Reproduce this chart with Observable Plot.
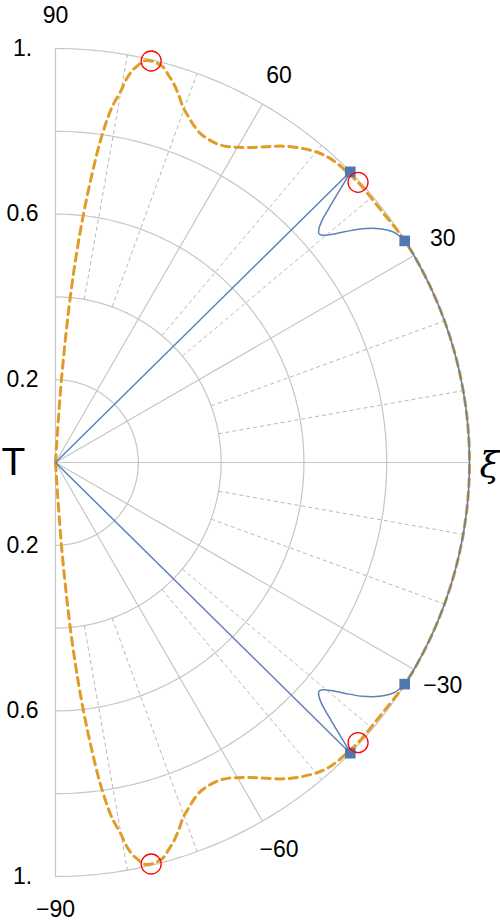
<!DOCTYPE html>
<html><head><meta charset="utf-8">
<script src="https://cdn.jsdelivr.net/npm/d3@7"></script>
<script src="https://cdn.jsdelivr.net/npm/@observablehq/plot@0.6"></script>
<style>html,body{margin:0;padding:0;background:#fff}svg{display:block}</style>
</head><body><div id="chart"></div>
<script>
// ---- grid / ticks ----
const ringRadii = [0.2, 0.4, 0.6, 0.8, 1.0];
const spokeAngles = [-90, -60, -30, 0, 30, 60, 90];
const minorSpokeAngles = [-80, -70, -50, -40, -20, -10, 10, 20, 40, 50, 70, 80];
const angleTickValues = [90, 60, 30, -30, -60, -90];
const angleTickLabels = ["90", "60", "30", "\u221230", "\u221260", "\u221290"];
const radialTickValues = [1, 0.6, 0.2, -0.2, -0.6, -1];
const radialTickLabels = ["1.", "0.6", "0.2", "0.2", "0.6", "1."];

// ---- orange dashed curve (angle in degrees, radius) ----
const orangeAngle = [86.5, 86.2, 85.9, 85.4, 84.9, 84.3, 83.6, 82.8, 82.0, 81.1, 80.6, 80.0, 79.6, 78.9, 78.3, 77.6, 76.6, 75.7, 74.7, 73.7, 72.7, 71.4, 70.2, 68.9, 67.7, 66.2, 64.9, 63.1, 61.4, 59.8, 58.2, 56.2, 54.2, 51.7, 49.4, 47.4, 45.2, 42.8, 40.1, 37.2, 34.2, 32.5, 30, 25, 20, 15, 10, 5, 0,
  -5, -10, -15, -20, -25, -30, -32.5, -34.2, -37.2, -40.1, -42.8, -45.2, -47.4, -49.4, -51.7, -54.2, -56.2, -58.2, -59.8, -61.4, -63.1, -64.9, -66.2, -67.7, -68.9, -70.2, -71.4, -72.7, -73.7, -74.7, -75.7, -76.6, -77.6, -78.3, -78.9, -79.6, -80.0, -80.6, -81.1, -82.0, -82.8, -83.6, -84.3, -84.9, -85.4, -85.9, -86.2, -86.5];
const orangeRadius = [0, 0.1, 0.2, 0.3, 0.4, 0.5, 0.6, 0.7, 0.79, 0.861, 0.886, 0.912, 0.938, 0.965, 0.979, 0.993, 0.997, 0.995, 0.989, 0.974, 0.959, 0.935, 0.911, 0.894, 0.88, 0.868, 0.864, 0.863, 0.869, 0.881, 0.895, 0.918, 0.942, 0.966, 0.983, 0.991, 0.994, 0.996, 0.995, 0.995, 0.998, 0.999, 1, 1, 1, 1, 1, 1, 1,
  1, 1, 1, 1, 1, 1, 0.999, 0.998, 0.995, 0.995, 0.996, 0.994, 0.991, 0.983, 0.966, 0.942, 0.918, 0.895, 0.881, 0.869, 0.863, 0.864, 0.868, 0.88, 0.894, 0.911, 0.935, 0.959, 0.974, 0.989, 0.995, 0.997, 0.993, 0.979, 0.965, 0.938, 0.912, 0.886, 0.861, 0.79, 0.7, 0.6, 0.5, 0.4, 0.3, 0.2, 0.1, 0];

// ---- blue solid curve: loops + outer arc ----
const blueAngle = [44.6, 44.3, 43.6, 42.9, 42.2, 41.6, 41.0, 40.4, 39.6, 38.6, 37.3, 35.6, 34.3, 33.2, 32.4, 30, 25, 20, 15, 10, 5, 0,
  -5, -10, -15, -20, -25, -30, -32.4, -33.2, -34.3, -35.6, -37.3, -38.6, -39.6, -40.4, -41.0, -41.6, -42.2, -42.9, -43.6, -44.3, -44.6];
const blueRadius = [1.0, 0.984, 0.940, 0.901, 0.868, 0.851, 0.843, 0.847, 0.864, 0.893, 0.932, 0.969, 0.988, 0.996, 0.999, 1, 1, 1, 1, 1, 1, 1,
  1, 1, 1, 1, 1, 1, 0.999, 0.996, 0.988, 0.969, 0.932, 0.893, 0.864, 0.847, 0.843, 0.851, 0.868, 0.901, 0.940, 0.984, 1.0];

// ---- markers ----
const squareAngle = [44.6, 32.4, -32.4, -44.6];
const squareRadius = [1.0, 0.999, 0.999, 1.0];
const circleAngle = [76.6, 42.8, -42.8, -76.6];
const circleRadius = [0.997, 0.996, 0.996, 0.997];

const rad = a => a * Math.PI / 180;
const X = (a, r) => r * Math.cos(rad(a));
const Y = (a, r) => r * Math.sin(rad(a));

const rows = (A, R) => A.map((a, i) => ({a, r: R[i]}));
const orange = rows(orangeAngle, orangeRadius);
const blue = rows(blueAngle, blueRadius);
const squares = rows(squareAngle, squareRadius);
const circles = rows(circleAngle, circleRadius);

const ringPts = ringRadii.flatMap(r => d3.range(-90, 90.01, 1).map(a => ({a, r})));

const gridCol = "#c6c6c6";
const font = "Liberation Sans, Arial, sans-serif";

const chart = Plot.plot({
  width: 500, height: 923,
  marginLeft: 55, marginRight: 31, marginTop: 48, marginBottom: 47,
  x: {domain: [0, 1], axis: null},
  y: {domain: [-1, 1], axis: null},
  style: {fontFamily: font, background: "#fff", overflow: "visible"},
  marks: [
    Plot.line(ringPts, {x: d => X(d.a, d.r), y: d => Y(d.a, d.r), z: "r", stroke: gridCol, strokeWidth: 1.2}),
    Plot.link(spokeAngles, {x1: 0, y1: 0, x2: a => X(a, 1), y2: a => Y(a, 1), stroke: gridCol, strokeWidth: 1.2}),
    Plot.link(minorSpokeAngles, {x1: a => X(a, 0.4), y1: a => Y(a, 0.4), x2: a => X(a, 1), y2: a => Y(a, 1), stroke: "#b9b9b9", strokeWidth: 1, strokeDasharray: "4,3"}),
    Plot.line(orange, {x: d => X(d.a, d.r), y: d => Y(d.a, d.r), stroke: "#e09c26", strokeWidth: 3, strokeDasharray: "8,5.5", curve: "catmull-rom"}),
    Plot.link([squares[0], squares[3]], {x1: 0, y1: 0, x2: d => X(d.a, d.r), y2: d => Y(d.a, d.r), stroke: "#5e81b5", strokeWidth: 1.5}),
    Plot.line(blue, {x: d => X(d.a, d.r), y: d => Y(d.a, d.r), stroke: "#5e81b5", strokeWidth: 1.5, curve: "catmull-rom"}),
    Plot.dot(squares, {x: d => X(d.a, d.r), y: d => Y(d.a, d.r), symbol: "square", r: 6, fill: "#4f78b2", stroke: "none"}),
    Plot.dot(circles, {x: d => X(d.a, d.r), y: d => Y(d.a, d.r), r: 10, fill: "none", stroke: "#ff0000", strokeWidth: 1.3}),
    Plot.text(angleTickValues, {x: a => X(a, 1.08), y: a => Y(a, 1.08), text: (a, i) => angleTickLabels[i], fontSize: 23, fill: "#000"}),
    Plot.text(radialTickValues, {x: 0, y: v => v, dx: -33, text: (v, i) => radialTickLabels[i], fontSize: 23, fill: "#000"}),
    Plot.text(["T"], {x: 0, y: 0, dx: -42, text: d => d, fontSize: 39, fill: "#000"}),
    Plot.text(["\u03be"], {x: 1, y: 0, dx: 20, dy: 3, text: d => d, fontSize: 36, fontStyle: "italic", fontFamily: "DejaVu Serif, Liberation Serif, serif", fill: "#000"})
  ]
});
document.getElementById("chart").appendChild(chart);
</script>
</body></html>
